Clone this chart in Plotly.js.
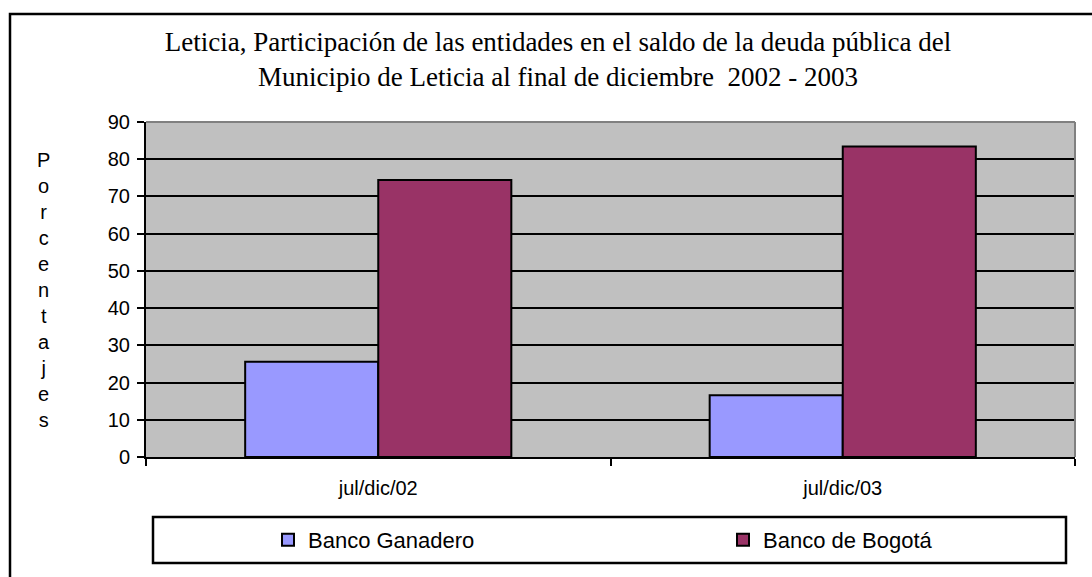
<!DOCTYPE html>
<html>
<head>
<meta charset="utf-8">
<script src="https://cdn.plot.ly/plotly-3.0.1.min.js"></script>
<style>html,body{margin:0;padding:0;background:#fff;}#chart{width:1092px;height:577px;}</style>
</head>
<body>
<div id="chart"></div>
<script>
var categories = ["jul/dic/02", "jul/dic/03"];
var seriesNames = ["Banco Ganadero", "Banco de Bogotá"];
var bancoGanadero = [25.6, 16.6];
var bancoBogota = [74.4, 83.4];
var yTicks = [0, 10, 20, 30, 40, 50, 60, 70, 80, 90];
var titleLines = ["Leticia, Participación de las entidades en el saldo de la deuda pública del",
                  "Municipio de Leticia al final de diciembre  2002 - 2003"];
var yTitle = "Porcentajes";

var W = 1092, H = 577;
var L = 146, R = 1075, T = 122, B = 457;
var pw = R - L, ph = B - T;
function px(x){ return (x - L) / pw; }
function py(y){ return (B - y) / ph; }

var traces = [
  {type: "bar", name: seriesNames[0], x: categories, y: bancoGanadero, legend: "legend",
   marker: {color: "#9999ff", line: {color: "#000", width: 2}}, hoverinfo: "x+y+name"},
  {type: "bar", name: seriesNames[1], x: categories, y: bancoBogota, legend: "legend2",
   marker: {color: "#993366", line: {color: "#000", width: 2}}, hoverinfo: "x+y+name"}
];

var legendCommon = {
  orientation: "h",
  bgcolor: "rgba(0,0,0,0)", borderwidth: 0,
  itemwidth: 30,
  font: {size: 22, color: "#000"},
  xanchor: "left", yanchor: "middle"
};

var layout = {
  width: W, height: H,
  margin: {l: L, r: W - R, t: T, b: H - B, pad: 0, autoexpand: false},
  paper_bgcolor: "#ffffff",
  plot_bgcolor: "#c0c0c0",
  barmode: "group",
  bargap: 0.427,
  bargroupgap: 0,
  font: {family: "Arial, 'Liberation Sans', sans-serif", color: "#000", size: 20},
  title: {
    text: titleLines.join("<br>"),
    font: {family: "'Liberation Serif', 'Times New Roman', serif", size: 27, color: "#000"},
    x: 558 / W, xanchor: "center", xref: "container",
    y: 1 - 51 / H, yanchor: "top", yref: "container"
  },
  xaxis: {
    type: "category",
    showline: true, linecolor: "#000", linewidth: 2,
    ticks: "outside", tickson: "boundaries", ticklen: 7, tickwidth: 2, tickcolor: "#000",
    showgrid: false, zeroline: false,
    tickfont: {size: 20},
    ticklabelstandoff: 12,
    fixedrange: true
  },
  yaxis: {
    range: [0, 90],
    tickvals: yTicks,
    ticktext: yTicks.map(String),
    showline: true, linecolor: "#000", linewidth: 2,
    ticks: "outside", ticklen: 7, tickwidth: 2, tickcolor: "#000",
    showgrid: true, gridcolor: "#000", gridwidth: 2,
    zeroline: false,
    tickfont: {size: 20},
    ticklabelstandoff: 3,
    fixedrange: true
  },
  showlegend: true,
  legend: Object.assign({}, legendCommon, {x: px(268), y: py(540)}),
  legend2: Object.assign({}, legendCommon, {x: px(723), y: py(540)}),
  annotations: [
    {xref: "paper", yref: "paper", x: px(43), y: py(290), xanchor: "center", yanchor: "middle",
     showarrow: false, text: yTitle.split("").join("<br>"),
     font: {size: 20, color: "#000"}}
  ],
  shapes: [
    {type: "rect", xref: "paper", yref: "paper", x0: px(10), x1: px(1200), y0: py(14), y1: py(700),
     line: {color: "#000", width: 2.5}, fillcolor: "rgba(0,0,0,0)", layer: "above"},
    {type: "line", xref: "paper", yref: "paper", x0: 0, x1: 1, y0: 1, y1: 1,
     line: {color: "#808080", width: 2}, layer: "above"},
    {type: "line", xref: "paper", yref: "paper", x0: 1, x1: 1, y0: 0, y1: 1,
     line: {color: "#808080", width: 2}, layer: "above"},
    {type: "rect", xref: "paper", yref: "paper", x0: px(153), x1: px(1066), y0: py(563), y1: py(517),
     line: {color: "#000", width: 2.5}, fillcolor: "rgba(0,0,0,0)", layer: "above"}
  ]
};

Plotly.newPlot("chart", traces, layout, {displayModeBar: false, staticPlot: true});
</script>
</body>
</html>
